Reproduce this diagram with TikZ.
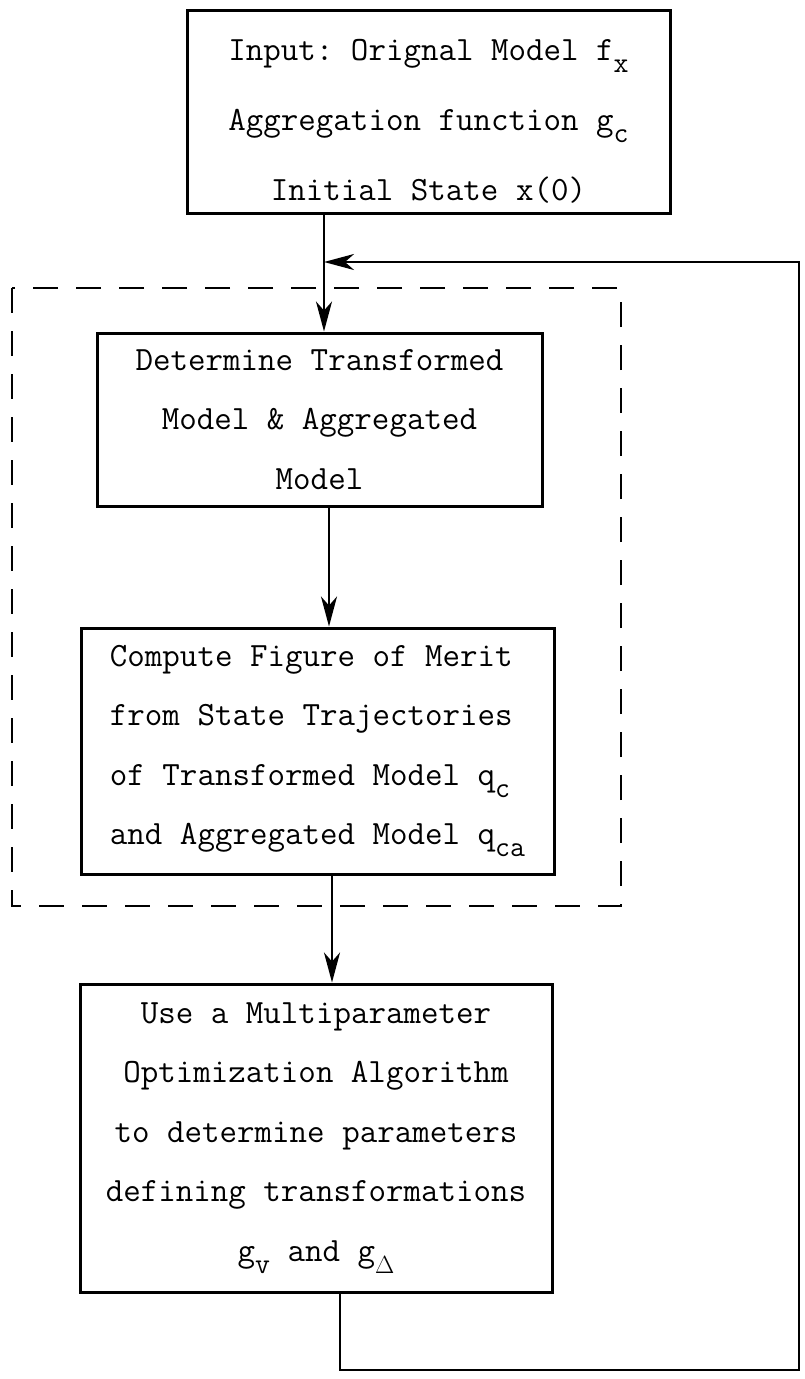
\documentclass[tikz,border=0pt]{standalone}
\usepackage{fontspec}
\usetikzlibrary{arrows.meta}
\newcommand\subsc[1]{\raisebox{-12pt}{\fontsize{29}{29}\selectfont #1}}
\frenchspacing
\begin{document}
\begin{tikzpicture}[x=1pt,y=-1pt,
  boxnode/.style={draw,line width=3pt,rectangle,inner sep=0pt,align=center,
     font=\ttfamily\fontsize{34}{59.5}\selectfont},
  arr/.style={line width=2.6pt,-{Stealth[length=30pt,width=16pt,inset=9pt]}},
  dashbox/.style={line width=2.6pt,dash pattern=on 25pt off 18pt}]
\useasboundingbox (0,0) rectangle (805,1379);
% boxes
\node[boxnode,minimum width=483pt,minimum height=203pt,
      font=\ttfamily\fontsize{34}{70}\selectfont] (b1) at (428.5,111.5)
  {\rule{0pt}{40pt}Input: Orignal Model f\subsc{x}\\Aggregation function g\subsc{c}\\Initial State x(0)};
\node[boxnode,minimum width=445pt,minimum height=173pt] (b2) at (319.5,419.5)
  {Determine Transformed\\Model \& Aggregated\\Model};
\node[boxnode,minimum width=473pt,minimum height=246pt,align=left] (b3) at (317.5,751)
  {Compute Figure of Merit\\from State Trajectories\\of Transformed Model q\subsc{c}\\and Aggregated Model q\subsc{ca}};
\node[boxnode,minimum width=472pt,minimum height=308pt] (b4) at (316,1138)
  {Use a Multiparameter\\Optimization Algorithm\\to determine parameters\\defining transformations\\g\subsc{v} and g\subsc{$\Delta$}};
% dashed group
\draw[dashbox] (12,288) rectangle (621,906);
% helper coordinates
\coordinate (j) at (324,262);
\coordinate (x23) at (329,0);
\coordinate (x34) at (332,0);
\coordinate (fb1) at (340,1370);
\coordinate (fb2) at (799,1370);
\coordinate (fb3) at (799,262);
% connectors
\draw[arr] (b1.south -| j) -- (b2.north -| j);
\draw[arr] (b2.south -| x23) -- (b3.north -| x23);
\draw[arr] (b3.south -| x34) -- (b4.north -| x34);
\draw[arr] (b4.south -| fb1) -- (fb1) -- (fb2) -- (fb3) -- (j);
\end{tikzpicture}
\end{document}
